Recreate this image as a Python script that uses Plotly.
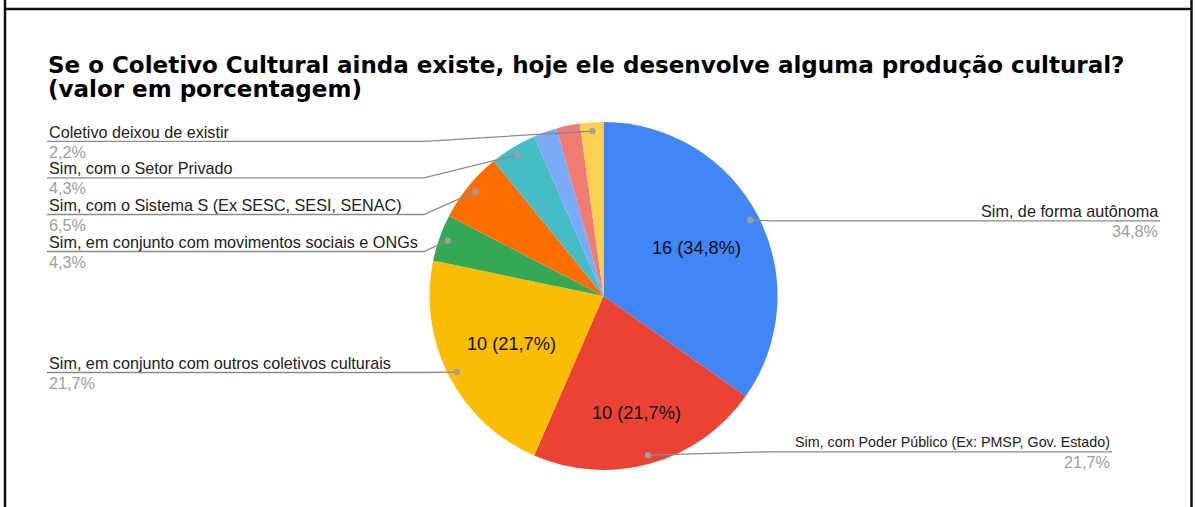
import math
import plotly.graph_objects as go

# --- data -------------------------------------------------------------
categories = [
    "Sim, de forma autônoma",
    "Sim, com Poder Público (Ex: PMSP, Gov. Estado)",
    "Sim, em conjunto com outros coletivos culturais",
    "Sim, em conjunto com movimentos sociais e ONGs",
    "Sim, com o Sistema S (Ex SESC, SESI, SENAC)",
    "Sim, com o Setor Privado",
    "Outra resposta (a)",
    "Outra resposta (b)",
    "Coletivo deixou de existir",
]
counts = [16, 10, 10, 2, 3, 2, 1, 1, 1]
title_lines = [
    "Se o Coletivo Cultural ainda existe, hoje ele desenvolve alguma produção cultural?",
    "(valor em porcentagem)",
]

# --- styling ----------------------------------------------------------
colors = ["#4285F4", "#EA4335", "#FBBC04", "#34A853", "#FF6D01",
          "#46BDC6", "#7BAAF7", "#F07B72", "#FCD04F"]
W, H = 1195, 507
CX, CY, R = 603.5, 296.0, 174.0
FONT = "Liberation Sans, Arial, sans-serif"
TITLE_FONT = "DejaVu Sans, sans-serif"
LINE_COLOR = "#8a8a8a"

# outside label layout: slice index -> (side, underline y, text edge x, font size)
label_layout = {
    8: ("left", 141.3, 47, 16.2),
    5: ("left", 177.8, 47, 16.2),
    4: ("left", 214.5, 47, 16.2),
    3: ("left", 251.5, 47, 16.2),
    2: ("left", 372.5, 47, 16.2),
    0: ("right", 220.8, 1160, 16.2),
    1: ("right", 451.8, 1112, 14.3),
}
LEFT_BEND_X, RIGHT_BEND_X = 424.0, 770.0
DOT_R_FRAC = 0.95
inside_r_frac = {0: 0.60, 1: 0.70, 2: 0.595}


def px(x):
    return x / W


def py(y):
    return 1 - y / H


def fmt_pct(p):
    return f"{p:.1f}".replace(".", ",") + "%"


total = sum(counts)
mid_angles = []
acc = 0
for v in counts:
    mid_angles.append((acc + v / 2) / total * 2 * math.pi)
    acc += v


def polar(idx, frac):
    a = mid_angles[idx]
    return CX + frac * R * math.sin(a), CY - frac * R * math.cos(a)


fig = go.Figure(go.Pie(
    labels=categories,
    values=counts,
    sort=False,
    direction="clockwise",
    rotation=0,
    marker=dict(colors=colors, line=dict(width=0)),
    textinfo="none",
    hoverinfo="label+value+percent",
    showlegend=False,
    domain=dict(x=[px(CX - R), px(CX + R)], y=[py(CY + R), py(CY - R)]),
))

shapes = []
annotations = []

# frame
shapes += [
    dict(type="line", xref="paper", yref="paper", x0=px(5), x1=px(5), y0=0, y1=1,
         line=dict(color="#111", width=2.5)),
    dict(type="line", xref="paper", yref="paper", x0=px(1191.5), x1=px(1191.5), y0=0, y1=1,
         line=dict(color="#111", width=2.5)),
    dict(type="line", xref="paper", yref="paper", x0=px(5), x1=px(1191.5), y0=py(9), y1=py(9),
         line=dict(color="#111", width=2.5)),
]

# title (two lines)
for line, yc in zip(title_lines, [65.0, 89.0]):
    annotations.append(dict(
        text=f"<b>{line}</b>", xref="paper", yref="paper", x=px(46), y=py(yc),
        xanchor="left", yanchor="middle", showarrow=False,
        font=dict(family=TITLE_FONT, size=23, color="#000"),
    ))

# outside labels with leader lines
for idx, (side, uy, ex, fs) in label_layout.items():
    dx, dy = polar(idx, DOT_R_FRAC)
    pct = counts[idx] / total * 100
    if side == "left":
        path = f"M {px(ex)},{py(uy)} L {px(LEFT_BEND_X)},{py(uy)} L {px(dx)},{py(dy)}"
        anchor = "left"
    else:
        path = f"M {px(ex)},{py(uy)} L {px(RIGHT_BEND_X)},{py(uy)} L {px(dx)},{py(dy)}"
        anchor = "right"
    shapes.append(dict(type="path", xref="paper", yref="paper", path=path,
                       line=dict(color=LINE_COLOR, width=1.3)))
    shapes.append(dict(type="circle", xref="paper", yref="paper",
                       x0=px(dx - 3.2), x1=px(dx + 3.2), y0=py(dy + 3.2), y1=py(dy - 3.2),
                       fillcolor="#9e9e9e", line=dict(width=0)))
    annotations.append(dict(
        text=categories[idx], xref="paper", yref="paper", x=px(ex), y=py(uy - 9.8),
        xanchor=anchor, yanchor="middle", showarrow=False,
        font=dict(family=FONT, size=fs, color="#222"),
    ))
    annotations.append(dict(
        text=fmt_pct(pct), xref="paper", yref="paper", x=px(ex), y=py(uy + 10.2),
        xanchor=anchor, yanchor="middle", showarrow=False,
        font=dict(family=FONT, size=16.2, color="#9e9e9e"),
    ))

# value labels inside the large slices
for idx, frac in inside_r_frac.items():
    tx, ty = polar(idx, frac)
    pct = counts[idx] / total * 100
    annotations.append(dict(
        text=f"{counts[idx]} ({fmt_pct(pct)})", xref="paper", yref="paper",
        x=px(tx), y=py(ty), xanchor="center", yanchor="middle", showarrow=False,
        font=dict(family=FONT, size=18.2, color="#111"),
    ))

fig.update_layout(
    width=W, height=H,
    margin=dict(l=0, r=0, t=0, b=0),
    paper_bgcolor="white",
    plot_bgcolor="white",
    shapes=shapes,
    annotations=annotations,
)

fig.write_html("out.html", config={"displayModeBar": False})
